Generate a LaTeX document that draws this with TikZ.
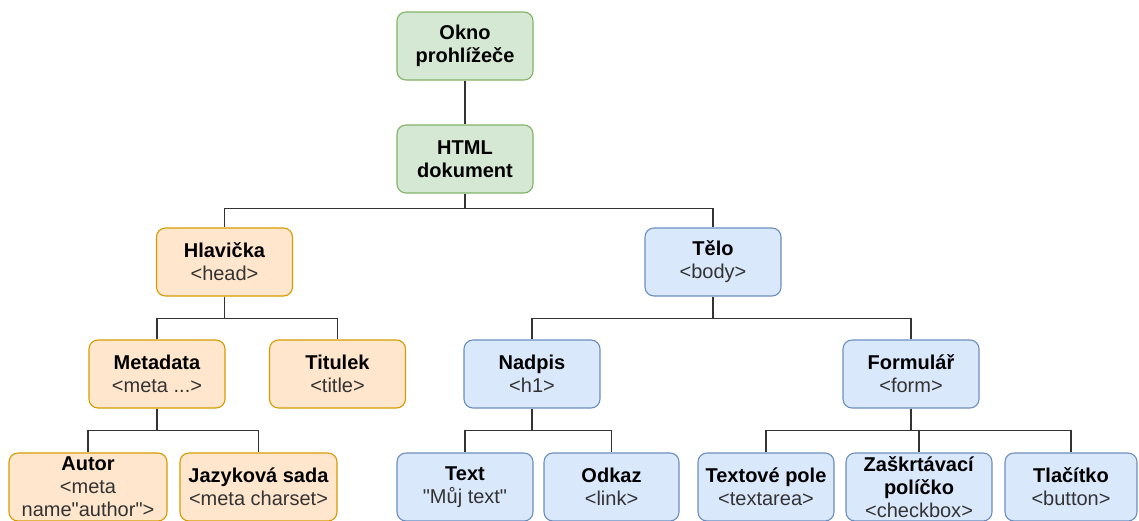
\documentclass[tikz,border=0pt]{standalone}
\usepackage{fontspec}
\setmainfont{Liberation Sans}[Ligatures=TeXOff]
\definecolor{gfill}{HTML}{D5E8D4}
\definecolor{gline}{HTML}{82B366}
\definecolor{ofill}{HTML}{FFE6CC}
\definecolor{oline}{HTML}{D79B00}
\definecolor{bfill}{HTML}{DAE8FC}
\definecolor{bline}{HTML}{6C8EBF}
\definecolor{linkc}{HTML}{333333}
\definecolor{subc}{HTML}{333333}
\newcommand{\sub}[1]{{\color{subc}#1}}
\begin{document}
\begin{tikzpicture}[x=1pt,y=-1pt,
  box/.style={draw, rounded corners=9pt, line width=1.1pt, minimum height=68pt,
    minimum width=136pt, inner sep=0pt, align=center,
    font=\fontsize{20}{23}\selectfont},
  gbox/.style={box, fill=gfill, draw=gline},
  obox/.style={box, fill=ofill, draw=oline},
  bbox/.style={box, fill=bfill, draw=bline},
  link/.style={draw=linkc, line width=1.1pt}
]
\useasboundingbox (0,0) rectangle (1139,520);
\fill[white] (0,0) rectangle (1139,520);

% top of the tree
\node[gbox] (okno) at (465,46) {\textbf{Okno}\\\textbf{prohlížeče}};
\node[gbox] (html) at (465,159) {\textbf{HTML}\\\textbf{dokument}};

% head and body
\node[obox] (hlav) at (224.5,262) {\textbf{Hlavička}\\\sub{<head>}};
\node[bbox] (telo) at (713,262) {\textbf{Tělo}\\\sub{<body>}};

% children of head
\node[obox] (meta) at (157,374) {\textbf{Metadata}\\\sub{<meta ...>}};
\node[obox] (titul) at (337.5,374) {\textbf{Titulek}\\\sub{<title>}};

% children of body
\node[bbox] (nadpis) at (532,374) {\textbf{Nadpis}\\\sub{<h1>}};
\node[bbox] (form) at (911,374) {\textbf{Formulář}\\\sub{<form>}};

% leaves
\node[obox, minimum width=158pt] (autor) at (88,487) {\textbf{Autor}\\\sub{<meta}\\\sub{name"author">}};
\node[obox, minimum width=157pt] (jazyk) at (258.5,487) {\textbf{Jazyková sada}\\\sub{<meta charset>}};
\node[bbox] (text) at (465,487) {\textbf{Text}\\\sub{"Můj text"}};
\node[bbox, minimum width=135pt] (odkaz) at (611.5,487) {\textbf{Odkaz}\\\sub{<link>}};
\node[bbox] (tpole) at (766,487) {\textbf{Textové pole}\\\sub{<textarea>}};
\node[bbox, minimum width=146pt] (check) at (919,487) {\textbf{Zaškrtávací}\\\textbf{políčko}\\\sub{<checkbox>}};
\node[bbox, minimum width=132pt] (tlac) at (1071,487) {\textbf{Tlačítko}\\\sub{<button>}};

% connectors
\draw[link] (okno) -- (html);
\path (html.south) ++(0,15) coordinate (b1);
\draw[link] (html.south) -- (b1) -| (hlav.north);
\draw[link] (b1) -| (telo.north);

\path (hlav.south) ++(0,22) coordinate (b2);
\draw[link] (hlav.south) -- (b2) -| (meta.north);
\draw[link] (b2) -| (titul.north);

\path (telo.south) ++(0,22) coordinate (b3);
\draw[link] (telo.south) -- (b3) -| (nadpis.north);
\draw[link] (b3) -| (form.north);

\path (meta.south) ++(0,22) coordinate (b4);
\draw[link] (meta.south) -- (b4) -| (autor.north);
\draw[link] (b4) -| (jazyk.north);

\path (nadpis.south) ++(0,22) coordinate (b5);
\draw[link] (nadpis.south) -- (b5) -| (text.north);
\draw[link] (b5) -| (odkaz.north);

\path (form.south) ++(0,22) coordinate (b6);
\draw[link] (form.south) -- (b6) -| (tpole.north);
\draw[link] (b6) -| (check.north);
\draw[link] (b6) -| (tlac.north);
\end{tikzpicture}
\end{document}
